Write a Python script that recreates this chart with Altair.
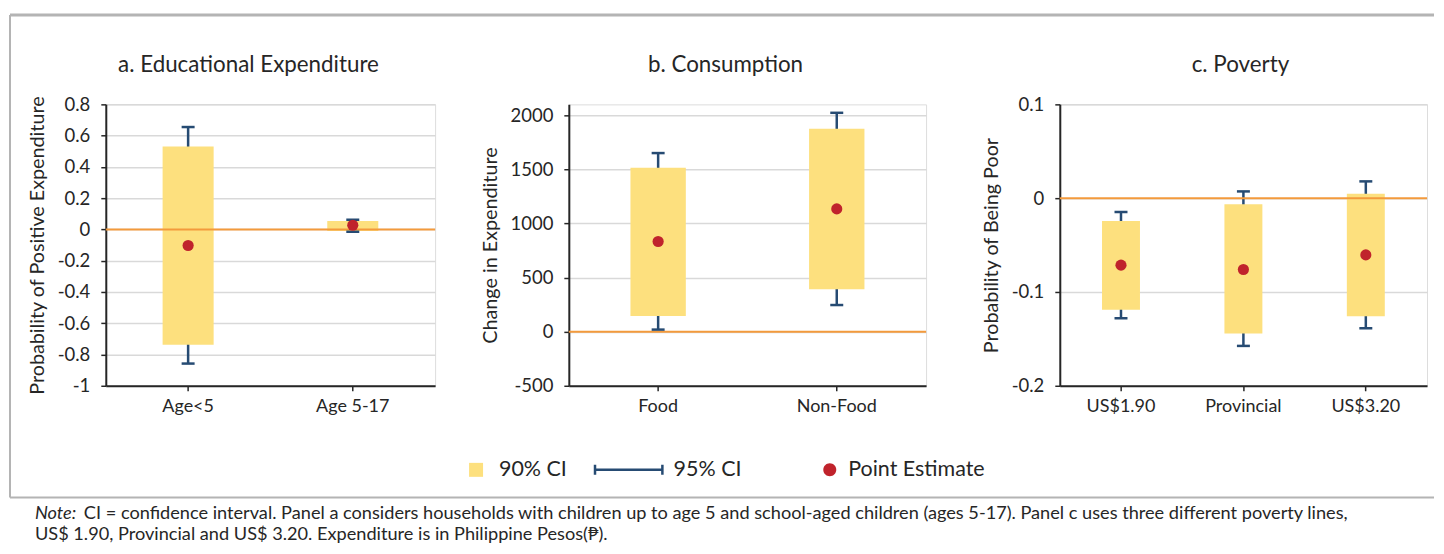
import altair as alt
import pandas as pd

FONT = "Lato"
TEXT = "#262626"
YELLOW = "#fde07e"
BLUE = "#264b73"
RED = "#c0232c"
ORANGE = "#f39a3c"
GRID = "#d9d9d9"
FRAME = "#b4b4b4"

# ---------------- data ----------------
edu_cats = ["Age<5", "Age 5-17"]
edu_point = [-0.103, 0.027]
edu_lo90 = [-0.737, -0.010]
edu_hi90 = [0.530, 0.054]
edu_lo95 = [-0.858, -0.015]
edu_hi95 = [0.655, 0.062]
edu_ticks = [0.8, 0.6, 0.4, 0.2, 0, -0.2, -0.4, -0.6, -0.8, -1]

con_cats = ["Food", "Non-Food"]
con_point = [833, 1134]
con_lo90 = [145, 391]
con_hi90 = [1515, 1875]
con_lo95 = [19, 246]
con_hi95 = [1650, 2022]
con_ticks = [-500, 0, 500, 1000, 1500, 2000]

pov_cats = ["US$1.90", "Provincial", "US$3.20"]
pov_point = [-0.0714, -0.0760, -0.0605]
pov_lo90 = [-0.1190, -0.1444, -0.1260]
pov_hi90 = [-0.0243, -0.0066, 0.0048]
pov_lo95 = [-0.1280, -0.1575, -0.1387]
pov_hi95 = [-0.0148, 0.0072, 0.0179]
pov_ticks = [0.1, 0, -0.1, -0.2]

panel_titles = ["a. Educational Expenditure", "b. Consumption", "c. Poverty"]
legend_items = ["90% CI", "95% CI", "Point Estimate"]
note_head = ["Note:"]
note_line1 = ["CI = confidence interval. Panel a considers households with children up to age 5 and school-aged children (ages 5-17). Panel c uses three different poverty lines,"]
note_line2 = ["US$ 1.90, Provincial and US$ 3.20. Expenditure is in Philippine Pesos(\u20b1)."]

# legend symbol paths (normalised to the symbol box)
SQ = "M0.43,-0.2H0.83V0.2H0.43Z"
ERR = ("M-1,-0.036H1V0.036H-1Z"
       "M-1,-0.143H-0.929V0.143H-1Z"
       "M0.929,-0.143H1V0.143H0.929Z")
CIRC = "M0.571,0A0.186,0.186,0,1,1,0.943,0A0.186,0.186,0,1,1,0.571,0Z"


def panel_layers(cats, point, lo90, hi90, lo95, hi95, ytitle, domain, ticks, title, title_x):
    df = pd.DataFrame({"cat": cats, "point": point, "lo90": lo90, "hi90": hi90,
                       "lo95": lo95, "hi95": hi95})
    x = alt.X("cat:N", sort=cats, title=None,
              scale=alt.Scale(paddingInner=0, paddingOuter=0),
              axis=alt.Axis(labelAngle=0, labelFontSize=18, labelFont=FONT, labelColor=TEXT,
                            labelPadding=7, tickSize=5, tickColor=TEXT, tickWidth=1.5,
                            domainColor=TEXT, domainWidth=2, grid=False))
    yscale = alt.Scale(domain=domain, nice=False, zero=False)
    yaxis = alt.Axis(title=ytitle, values=ticks, tickCount=40, labelExpr="'' + datum.value",
                     labelOverlap=False, labelFlush=False,
                     grid=True, gridColor=GRID, gridWidth=1.5,
                     domainColor=TEXT, domainWidth=2, tickColor=TEXT, tickWidth=1.5, tickSize=5,
                     labelPadding=11, labelFontSize=18.5, labelFont=FONT, labelColor=TEXT,
                     titleFontSize=19.8, titleFont=FONT, titleFontWeight="normal",
                     titleColor=TEXT, titlePadding=10)
    base = alt.Chart(df).encode(x=x)
    whisk = base.mark_rule(color=BLUE, strokeWidth=2.5).encode(
        y=alt.Y("lo95:Q", scale=yscale, axis=yaxis), y2="hi95:Q")
    bar = base.mark_bar(color=YELLOW, width=alt.RelativeBandSize(0.31)).encode(
        y="lo90:Q", y2="hi90:Q")
    zero = alt.Chart(pd.DataFrame({"zero": [0]})).mark_rule(
        color=ORANGE, strokeWidth=2).encode(y="zero:Q")
    cap_hi = base.mark_tick(color=BLUE, thickness=2.5, size=13, opacity=1).encode(y="hi95:Q")
    cap_lo = base.mark_tick(color=BLUE, thickness=2.5, size=13, opacity=1).encode(y="lo95:Q")
    pt = base.mark_circle(color=RED, size=125, opacity=1).encode(y="point:Q")
    ttl = alt.Chart(pd.DataFrame({"t": [title]})).mark_text(
        align="center", baseline="alphabetic", font=FONT, fontSize=22.4, color=TEXT).encode(
        text="t:N", x=alt.value(title_x), y=alt.value(-32))
    return [whisk, bar, zero, cap_hi, cap_lo, pt, ttl]


# ---------------- legend + note + frame (drawn with panel a) ----------------
legend_df = pd.DataFrame({"item": legend_items})
leg = alt.Chart(legend_df).mark_point(filled=True, opacity=1).encode(
    color=alt.Color("item:N", sort=legend_items,
                    scale=alt.Scale(domain=legend_items, range=[YELLOW, BLUE, RED]),
                    legend=alt.Legend(title=None, orient="none", legendX=314, legendY=331,
                                      direction="horizontal", symbolSize=4900,
                                      symbolStrokeWidth=0, symbolOpacity=1,
                                      labelFont=FONT, labelFontSize=21.5, labelColor=TEXT,
                                      labelOffset=10, columnPadding=26, padding=0)),
    shape=alt.Shape("item:N", sort=legend_items,
                    scale=alt.Scale(domain=legend_items, range=[SQ, ERR, CIRC])),
).transform_filter("false")

one = pd.DataFrame({"k": [0]})
sep = alt.Chart(one).mark_rule(color=FRAME, strokeWidth=2).encode(
    x=alt.value(-96), x2=alt.value(1331), y=alt.value(394))
left = alt.Chart(one).mark_rule(color=FRAME, strokeWidth=2).encode(
    x=alt.value(-96), y=alt.value(-89.5), y2=alt.value(394))
top = alt.Chart(one).mark_rule(color=FRAME, strokeWidth=3).encode(
    x=alt.value(-96), x2=alt.value(1331), y=alt.value(-89.5))

NOTE_SIZE = 18.2
t_head = alt.Chart(pd.DataFrame({"t": note_head})).mark_text(
    align="left", baseline="middle", font=FONT, fontSize=NOTE_SIZE, fontStyle="italic",
    color=TEXT).encode(text="t:N", x=alt.value(-71), y=alt.value(411))
t_l1 = alt.Chart(pd.DataFrame({"t": note_line1})).mark_text(
    align="left", baseline="middle", font=FONT, fontSize=NOTE_SIZE, color=TEXT).encode(
    text="t:N", x=alt.value(-22), y=alt.value(411))
t_l2 = alt.Chart(pd.DataFrame({"t": note_line2})).mark_text(
    align="left", baseline="middle", font=FONT, fontSize=NOTE_SIZE, color=TEXT).encode(
    text="t:N", x=alt.value(-71), y=alt.value(432))

extras = [sep, left, top, t_head, t_l1, t_l2, leg]

pa = alt.layer(*(panel_layers(edu_cats, edu_point, edu_lo90, edu_hi90, edu_lo95, edu_hi95,
                              "Probability of Positive Expenditure", [-1, 0.8], edu_ticks,
                              panel_titles[0], 143)
                 + extras)).properties(width=330, height=282)
pb = alt.layer(*panel_layers(con_cats, con_point, con_lo90, con_hi90, con_lo95, con_hi95,
                             "Change in Expenditure", [-500, 2100], con_ticks,
                             panel_titles[1], 157)).properties(width=358, height=282)
pc = alt.layer(*panel_layers(pov_cats, pov_point, pov_lo90, pov_hi90, pov_lo95, pov_hi95,
                             "Probability of Being Poor", [-0.2, 0.1], pov_ticks,
                             panel_titles[2], 181)).properties(width=368, height=282)

chart = alt.hconcat(pa, pb, pc, spacing=134, bounds="flush").properties(
    padding={"top": 4, "left": 0, "right": 0, "bottom": 2}
).configure_view(stroke=None).configure(background="white")

chart.save("out.html", embed_options={"renderer": "svg", "actions": False})
